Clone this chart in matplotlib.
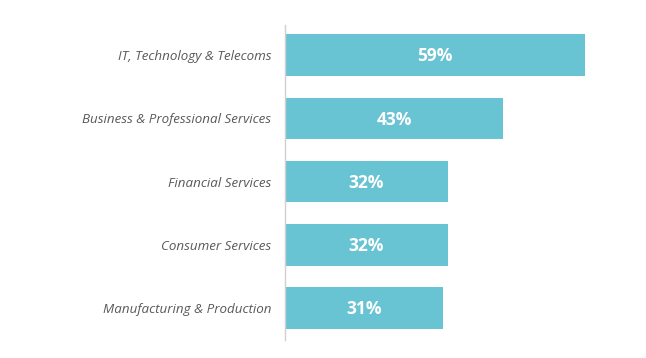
import matplotlib.pyplot as plt

# data
sectors = ["IT, Technology & Telecoms", "Business & Professional Services",
           "Financial Services", "Consumer Services", "Manufacturing & Production"]
shares = [59, 43, 32, 32, 31]

bar_color = "#68C3D3"
label_color = "#595959"

fig = plt.figure(figsize=(6.46, 3.58), dpi=100)
ax = fig.add_axes([285/646, 1 - 340/358, (600 - 285)/646, 315/358])

ypos = list(range(len(sectors)))
bars = ax.barh(ypos, shares, height=0.66, color=bar_color, zorder=2)

for y, v in zip(ypos, shares):
    ax.text(v / 2, y + 0.02, "%d%%" % v, ha="center", va="center", color="white",
            fontsize=12.5, fontweight="bold", family="Open Sans")

ax.set_xlim(0, 62)
ax.set_ylim(4.506, -0.478)
ax.set_yticks(ypos)
ax.set_yticklabels(sectors, fontsize=9.6, style="italic", color=label_color,
                   family="Open Sans")
ax.tick_params(axis="y", length=0, pad=10)
ax.set_xticks([])

for s in ["top", "right", "bottom"]:
    ax.spines[s].set_visible(False)
ax.spines["left"].set_color("#d0d0d0")
ax.spines["left"].set_linewidth(1)

fig.savefig("out.png", dpi=100)
